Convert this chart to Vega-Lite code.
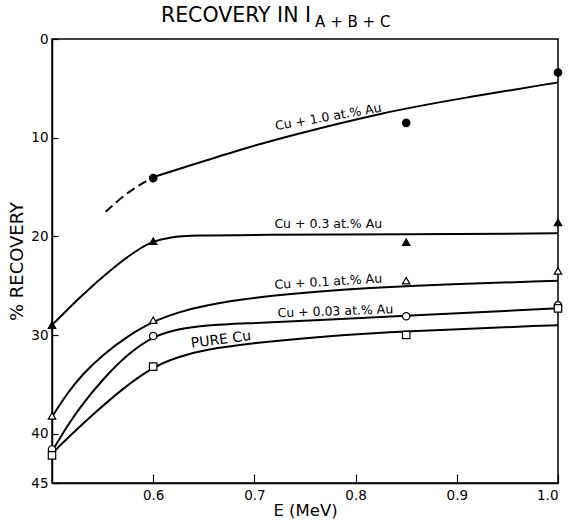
{
  "$schema": "https://vega.github.io/schema/vega-lite/v6.json",
  "width": 506,
  "height": 444,
  "autosize": {"type": "none"},
  "padding": {"left": 52, "top": 39, "right": 13, "bottom": 37},
  "background": "white",
  "config": {
    "font": "DejaVu Sans",
    "view": {"stroke": "black", "strokeWidth": 1.5},
    "axis": {
      "grid": false,
      "domainColor": "black",
      "domainWidth": 1.5,
      "tickColor": "black",
      "tickWidth": 1.2,
      "labelColor": "black",
      "titleColor": "black",
      "labelFont": "DejaVu Sans",
      "titleFont": "DejaVu Sans",
      "titleFontWeight": "normal",
      "labelFontSize": 13.5
    }
  },
  "datasets": {
    "curves": [
      {"series": "Cu + 1.0 at.% Au", "E": 0.6, "R": 14.0},
      {"series": "Cu + 1.0 at.% Au", "E": 0.64, "R": 12.7},
      {"series": "Cu + 1.0 at.% Au", "E": 0.686, "R": 11.2},
      {"series": "Cu + 1.0 at.% Au", "E": 0.735, "R": 9.8},
      {"series": "Cu + 1.0 at.% Au", "E": 0.824, "R": 7.5},
      {"series": "Cu + 1.0 at.% Au", "E": 0.91, "R": 5.9},
      {"series": "Cu + 1.0 at.% Au", "E": 1.0, "R": 4.4},
      {"series": "Cu + 0.3 at.% Au", "E": 0.5, "R": 29.0},
      {"series": "Cu + 0.3 at.% Au", "E": 0.53, "R": 25.9},
      {"series": "Cu + 0.3 at.% Au", "E": 0.56, "R": 23.2},
      {"series": "Cu + 0.3 at.% Au", "E": 0.585, "R": 21.3},
      {"series": "Cu + 0.3 at.% Au", "E": 0.6, "R": 20.5},
      {"series": "Cu + 0.3 at.% Au", "E": 0.615, "R": 20.1},
      {"series": "Cu + 0.3 at.% Au", "E": 0.64, "R": 19.9},
      {"series": "Cu + 0.3 at.% Au", "E": 0.7, "R": 19.85},
      {"series": "Cu + 0.3 at.% Au", "E": 0.85, "R": 19.8},
      {"series": "Cu + 0.3 at.% Au", "E": 1.0, "R": 19.7},
      {"series": "Cu + 0.1 at.% Au", "E": 0.5, "R": 38.3},
      {"series": "Cu + 0.1 at.% Au", "E": 0.515, "R": 35.9},
      {"series": "Cu + 0.1 at.% Au", "E": 0.53, "R": 34.0},
      {"series": "Cu + 0.1 at.% Au", "E": 0.55, "R": 32.0},
      {"series": "Cu + 0.1 at.% Au", "E": 0.575, "R": 30.1},
      {"series": "Cu + 0.1 at.% Au", "E": 0.6, "R": 28.6},
      {"series": "Cu + 0.1 at.% Au", "E": 0.625, "R": 27.7},
      {"series": "Cu + 0.1 at.% Au", "E": 0.65, "R": 27.0},
      {"series": "Cu + 0.1 at.% Au", "E": 0.7, "R": 26.2},
      {"series": "Cu + 0.1 at.% Au", "E": 0.76, "R": 25.6},
      {"series": "Cu + 0.1 at.% Au", "E": 0.85, "R": 25.0},
      {"series": "Cu + 0.1 at.% Au", "E": 1.0, "R": 24.5},
      {"series": "Cu + 0.03 at.% Au", "E": 0.5, "R": 41.8},
      {"series": "Cu + 0.03 at.% Au", "E": 0.515, "R": 39.2},
      {"series": "Cu + 0.03 at.% Au", "E": 0.53, "R": 37.0},
      {"series": "Cu + 0.03 at.% Au", "E": 0.55, "R": 34.5},
      {"series": "Cu + 0.03 at.% Au", "E": 0.575, "R": 31.9},
      {"series": "Cu + 0.03 at.% Au", "E": 0.6, "R": 30.1},
      {"series": "Cu + 0.03 at.% Au", "E": 0.625, "R": 29.4},
      {"series": "Cu + 0.03 at.% Au", "E": 0.65, "R": 29.0},
      {"series": "Cu + 0.03 at.% Au", "E": 0.7, "R": 28.8},
      {"series": "Cu + 0.03 at.% Au", "E": 0.76, "R": 28.5},
      {"series": "Cu + 0.03 at.% Au", "E": 0.85, "R": 28.05},
      {"series": "Cu + 0.03 at.% Au", "E": 1.0, "R": 27.3},
      {"series": "PURE Cu", "E": 0.5, "R": 42.0},
      {"series": "PURE Cu", "E": 0.52, "R": 40.0},
      {"series": "PURE Cu", "E": 0.54, "R": 38.1},
      {"series": "PURE Cu", "E": 0.57, "R": 35.4},
      {"series": "PURE Cu", "E": 0.6, "R": 33.2},
      {"series": "PURE Cu", "E": 0.625, "R": 32.2},
      {"series": "PURE Cu", "E": 0.65, "R": 31.5},
      {"series": "PURE Cu", "E": 0.7, "R": 30.8},
      {"series": "PURE Cu", "E": 0.76, "R": 30.2},
      {"series": "PURE Cu", "E": 0.85, "R": 29.6},
      {"series": "PURE Cu", "E": 1.0, "R": 29.0}
    ],
    "dashed": [
      {"series": "Cu + 1.0 at.% Au", "E": 0.553, "R": 17.5},
      {"series": "Cu + 1.0 at.% Au", "E": 0.575, "R": 15.6},
      {"series": "Cu + 1.0 at.% Au", "E": 0.6, "R": 14.0}
    ],
    "points": [
      {"series": "Cu + 1.0 at.% Au", "E": 0.6, "R": 14.1},
      {"series": "Cu + 1.0 at.% Au", "E": 0.85, "R": 8.5},
      {"series": "Cu + 1.0 at.% Au", "E": 1.0, "R": 3.4},
      {"series": "Cu + 0.3 at.% Au", "E": 0.5, "R": 29.0},
      {"series": "Cu + 0.3 at.% Au", "E": 0.6, "R": 20.5},
      {"series": "Cu + 0.3 at.% Au", "E": 0.85, "R": 20.6},
      {"series": "Cu + 0.3 at.% Au", "E": 1.0, "R": 18.6},
      {"series": "Cu + 0.1 at.% Au", "E": 0.5, "R": 38.2},
      {"series": "Cu + 0.1 at.% Au", "E": 0.6, "R": 28.5},
      {"series": "Cu + 0.1 at.% Au", "E": 0.85, "R": 24.5},
      {"series": "Cu + 0.1 at.% Au", "E": 1.0, "R": 23.5},
      {"series": "Cu + 0.03 at.% Au", "E": 0.5, "R": 41.6},
      {"series": "Cu + 0.03 at.% Au", "E": 0.6, "R": 30.1},
      {"series": "Cu + 0.03 at.% Au", "E": 0.85, "R": 28.1},
      {"series": "Cu + 0.03 at.% Au", "E": 1.0, "R": 27.0},
      {"series": "PURE Cu", "E": 0.5, "R": 42.2},
      {"series": "PURE Cu", "E": 0.6, "R": 33.2},
      {"series": "PURE Cu", "E": 0.85, "R": 30.0},
      {"series": "PURE Cu", "E": 1.0, "R": 27.3}
    ]
  },
  "encoding": {
    "x": {
      "field": "E",
      "type": "quantitative",
      "scale": {"domain": [0.5, 1.0], "nice": false, "zero": false},
      "axis": {
        "title": "E (MeV)",
        "titleFontSize": 16.5,
        "titlePadding": 1,
        "values": [0.6, 0.7, 0.8, 0.9, 1.0],
        "format": ".1f",
        "tickSize": -9,
        "labelPadding": 14
      }
    },
    "y": {
      "field": "R",
      "type": "quantitative",
      "scale": {"domain": [0, 45], "nice": false, "zero": false, "reverse": true},
      "axis": {
        "title": "% RECOVERY",
        "titleFontSize": 18,
        "titlePadding": 4,
        "values": [0, 10, 20, 30, 40, 45],
        "tickSize": -6,
        "labelPadding": 10
      }
    }
  },
  "layer": [
    {
      "data": {"name": "curves"},
      "mark": {"type": "line", "color": "black", "strokeWidth": 2, "interpolate": "basis"},
      "encoding": {"detail": {"field": "series"}}
    },
    {
      "data": {"name": "dashed"},
      "mark": {"type": "line", "color": "black", "strokeWidth": 2, "strokeDash": [9, 5], "interpolate": "monotone"},
      "encoding": {"detail": {"field": "series"}}
    },
    {
      "data": {"name": "points"},
      "mark": {"type": "point", "filled": true, "stroke": "black", "strokeWidth": 1.2, "opacity": 1, "size": 55},
      "encoding": {
        "shape": {
          "field": "series",
          "type": "nominal",
          "scale": {
            "domain": ["Cu + 1.0 at.% Au", "Cu + 0.3 at.% Au", "Cu + 0.1 at.% Au", "Cu + 0.03 at.% Au", "PURE Cu"],
            "range": ["circle", "triangle-up", "triangle-up", "circle", "square"]
          },
          "legend": null
        },
        "fill": {
          "field": "series",
          "type": "nominal",
          "scale": {
            "domain": ["Cu + 1.0 at.% Au", "Cu + 0.3 at.% Au", "Cu + 0.1 at.% Au", "Cu + 0.03 at.% Au", "PURE Cu"],
            "range": ["black", "black", "white", "white", "white"]
          },
          "legend": null
        }
      }
    },
    {
      "data": {"values": [{"label": "Cu + 1.0 at.% Au", "E": 0.773, "R": 7.9}]},
      "mark": {"type": "text", "fontSize": 12.5, "angle": -10, "color": "black", "baseline": "middle"},
      "encoding": {"text": {"field": "label"}}
    },
    {
      "data": {"values": [{"label": "Cu + 0.3 at.% Au", "E": 0.773, "R": 18.7}]},
      "mark": {"type": "text", "fontSize": 12.5, "angle": 0, "color": "black", "baseline": "middle"},
      "encoding": {"text": {"field": "label"}}
    },
    {
      "data": {"values": [{"label": "Cu + 0.1 at.% Au", "E": 0.773, "R": 24.6}]},
      "mark": {"type": "text", "fontSize": 12.5, "angle": -3.5, "color": "black", "baseline": "middle"},
      "encoding": {"text": {"field": "label"}}
    },
    {
      "data": {"values": [{"label": "Cu + 0.03 at.% Au", "E": 0.78, "R": 27.6}]},
      "mark": {"type": "text", "fontSize": 12.5, "angle": -2, "color": "black", "baseline": "middle"},
      "encoding": {"text": {"field": "label"}}
    },
    {
      "data": {"values": [{"label": "PURE Cu", "E": 0.667, "R": 30.5}]},
      "mark": {"type": "text", "fontSize": 14, "angle": -7.5, "color": "black", "baseline": "middle"},
      "encoding": {"text": {"field": "label"}}
    },
    {
      "data": {"values": [{"label": "RECOVERY IN I", "E": 0.756, "R": -1.72}]},
      "mark": {"type": "text", "fontSize": 20.5, "align": "right", "baseline": "alphabetic", "color": "black"},
      "encoding": {"text": {"field": "label"}}
    },
    {
      "data": {"values": [{"label": "A + B + C", "E": 0.76, "R": -1.22}]},
      "mark": {"type": "text", "fontSize": 15, "align": "left", "baseline": "alphabetic", "color": "black"},
      "encoding": {"text": {"field": "label"}}
    }
  ]
}
